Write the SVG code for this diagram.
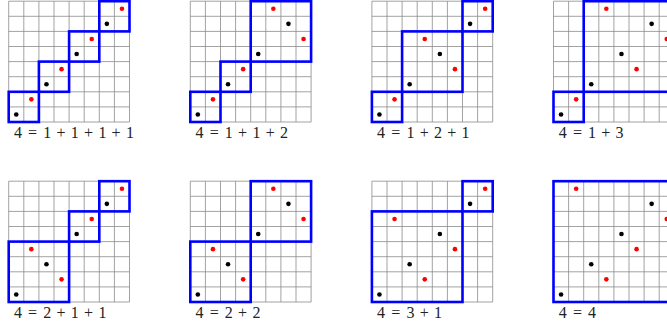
<svg xmlns="http://www.w3.org/2000/svg" xmlns:xlink="http://www.w3.org/1999/xlink" width="667" height="328" viewBox="0 0 667 328">
<style>
.g line{stroke:#8a8a8a;stroke-width:0.8}
.blk{fill:none;stroke:#0000ff;stroke-width:2.6}
.b{fill:#000}
.r{fill:#ff0000}
.lbl{font-family:"Liberation Serif","Times New Roman",serif;font-size:16px;fill:#222;text-anchor:middle}
</style>
<defs>
<g id="grid" class="g">
<line x1="0" y1="0" x2="0" y2="120.8"/><line x1="15.1" y1="0" x2="15.1" y2="120.8"/><line x1="30.2" y1="0" x2="30.2" y2="120.8"/><line x1="45.3" y1="0" x2="45.3" y2="120.8"/><line x1="60.4" y1="0" x2="60.4" y2="120.8"/><line x1="75.5" y1="0" x2="75.5" y2="120.8"/><line x1="90.6" y1="0" x2="90.6" y2="120.8"/><line x1="105.7" y1="0" x2="105.7" y2="120.8"/><line x1="120.8" y1="0" x2="120.8" y2="120.8"/>
<line x1="0" y1="0" x2="120.8" y2="0"/><line x1="0" y1="15.1" x2="120.8" y2="15.1"/><line x1="0" y1="30.2" x2="120.8" y2="30.2"/><line x1="0" y1="45.3" x2="120.8" y2="45.3"/><line x1="0" y1="60.4" x2="120.8" y2="60.4"/><line x1="0" y1="75.5" x2="120.8" y2="75.5"/><line x1="0" y1="90.6" x2="120.8" y2="90.6"/><line x1="0" y1="105.7" x2="120.8" y2="105.7"/><line x1="0" y1="120.8" x2="120.8" y2="120.8"/>
</g>
</defs>

<g id="panel-1111" transform="translate(8.7,1.2)">
<use xlink:href="#grid" href="#grid"/>
<rect class="blk" x="0" y="90.6" width="30.2" height="30.2"/>
<rect class="blk" x="30.2" y="60.4" width="30.2" height="30.2"/>
<rect class="blk" x="60.4" y="30.2" width="30.2" height="30.2"/>
<rect class="blk" x="90.6" y="0" width="30.2" height="30.2"/>
<circle class="b" cx="7.55" cy="113.25" r="2.3"/><circle class="r" cx="22.65" cy="98.15" r="2.3"/>
<circle class="b" cx="37.75" cy="83.05" r="2.3"/><circle class="r" cx="52.85" cy="67.95" r="2.3"/>
<circle class="b" cx="67.95" cy="52.85" r="2.3"/><circle class="r" cx="83.05" cy="37.75" r="2.3"/>
<circle class="b" cx="98.15" cy="22.65" r="2.3"/><circle class="r" cx="113.25" cy="7.55" r="2.3"/>
<text class="lbl" y="136.6" x="9.2 15.4 23.9 32.3 38.5 44.3 52.3 60.3 66.1 71.9 79.9 87.9 93.7 99.4 107.4 115.4 121.2">4 = 1 + 1 + 1 + 1</text>
</g>

<g id="panel-112" transform="translate(190.3,1.2)">
<use xlink:href="#grid" href="#grid"/>
<rect class="blk" x="0" y="90.6" width="30.2" height="30.2"/>
<rect class="blk" x="30.2" y="60.4" width="30.2" height="30.2"/>
<rect class="blk" x="60.4" y="0" width="60.4" height="60.4"/>
<circle class="b" cx="7.55" cy="113.25" r="2.3"/><circle class="r" cx="22.65" cy="98.15" r="2.3"/>
<circle class="b" cx="37.75" cy="83.05" r="2.3"/><circle class="r" cx="52.85" cy="67.95" r="2.3"/>
<circle class="b" cx="67.95" cy="52.85" r="2.3"/><circle class="r" cx="83.05" cy="7.55" r="2.3"/>
<circle class="b" cx="98.15" cy="22.65" r="2.3"/><circle class="r" cx="113.25" cy="37.75" r="2.3"/>
<text class="lbl" y="136.6" x="9.2 15.4 23.9 32.3 38.5 44.3 52.3 60.3 66.1 71.9 79.9 87.9 93.7">4 = 1 + 1 + 2</text>
</g>

<g id="panel-121" transform="translate(371.9,1.2)">
<use xlink:href="#grid" href="#grid"/>
<rect class="blk" x="0" y="90.6" width="30.2" height="30.2"/>
<rect class="blk" x="30.2" y="30.2" width="60.4" height="60.4"/>
<rect class="blk" x="90.6" y="0" width="30.2" height="30.2"/>
<circle class="b" cx="7.55" cy="113.25" r="2.3"/><circle class="r" cx="22.65" cy="98.15" r="2.3"/>
<circle class="b" cx="37.75" cy="83.05" r="2.3"/><circle class="r" cx="52.85" cy="37.75" r="2.3"/>
<circle class="b" cx="67.95" cy="52.85" r="2.3"/><circle class="r" cx="83.05" cy="67.95" r="2.3"/>
<circle class="b" cx="98.15" cy="22.65" r="2.3"/><circle class="r" cx="113.25" cy="7.55" r="2.3"/>
<text class="lbl" y="136.6" x="9.2 15.4 23.9 32.3 38.5 44.3 52.3 60.3 66.1 71.9 79.9 87.9 93.7">4 = 1 + 2 + 1</text>
</g>

<g id="panel-13" transform="translate(553.5,1.2)">
<use xlink:href="#grid" href="#grid"/>
<rect class="blk" x="0" y="90.6" width="30.2" height="30.2"/>
<rect class="blk" x="30.2" y="0" width="90.6" height="90.6"/>
<circle class="b" cx="7.55" cy="113.25" r="2.3"/><circle class="r" cx="22.65" cy="98.15" r="2.3"/>
<circle class="b" cx="37.75" cy="83.05" r="2.3"/><circle class="r" cx="52.85" cy="7.55" r="2.3"/>
<circle class="b" cx="67.95" cy="52.85" r="2.3"/><circle class="r" cx="83.05" cy="67.95" r="2.3"/>
<circle class="b" cx="98.15" cy="22.65" r="2.3"/><circle class="r" cx="113.25" cy="37.75" r="2.3"/>
<text class="lbl" y="136.6" x="9.2 15.4 23.9 32.3 38.5 44.3 52.3 60.3 66.1">4 = 1 + 3</text>
</g>

<g id="panel-211" transform="translate(8.7,181.2)">
<use xlink:href="#grid" href="#grid"/>
<rect class="blk" x="0" y="60.4" width="60.4" height="60.4"/>
<rect class="blk" x="60.4" y="30.2" width="30.2" height="30.2"/>
<rect class="blk" x="90.6" y="0" width="30.2" height="30.2"/>
<circle class="b" cx="7.55" cy="113.25" r="2.3"/><circle class="r" cx="22.65" cy="67.95" r="2.3"/>
<circle class="b" cx="37.75" cy="83.05" r="2.3"/><circle class="r" cx="52.85" cy="98.15" r="2.3"/>
<circle class="b" cx="67.95" cy="52.85" r="2.3"/><circle class="r" cx="83.05" cy="37.75" r="2.3"/>
<circle class="b" cx="98.15" cy="22.65" r="2.3"/><circle class="r" cx="113.25" cy="7.55" r="2.3"/>
<text class="lbl" y="136.8" x="9.2 15.4 23.9 32.3 38.5 44.3 52.3 60.3 66.1 71.9 79.9 87.9 93.7">4 = 2 + 1 + 1</text>
</g>

<g id="panel-22" transform="translate(190.3,181.2)">
<use xlink:href="#grid" href="#grid"/>
<rect class="blk" x="0" y="60.4" width="60.4" height="60.4"/>
<rect class="blk" x="60.4" y="0" width="60.4" height="60.4"/>
<circle class="b" cx="7.55" cy="113.25" r="2.3"/><circle class="r" cx="22.65" cy="67.95" r="2.3"/>
<circle class="b" cx="37.75" cy="83.05" r="2.3"/><circle class="r" cx="52.85" cy="98.15" r="2.3"/>
<circle class="b" cx="67.95" cy="52.85" r="2.3"/><circle class="r" cx="83.05" cy="7.55" r="2.3"/>
<circle class="b" cx="98.15" cy="22.65" r="2.3"/><circle class="r" cx="113.25" cy="37.75" r="2.3"/>
<text class="lbl" y="136.8" x="9.2 15.4 23.9 32.3 38.5 44.3 52.3 60.3 66.1">4 = 2 + 2</text>
</g>

<g id="panel-31" transform="translate(371.9,181.2)">
<use xlink:href="#grid" href="#grid"/>
<rect class="blk" x="0" y="30.2" width="90.6" height="90.6"/>
<rect class="blk" x="90.6" y="0" width="30.2" height="30.2"/>
<circle class="b" cx="7.55" cy="113.25" r="2.3"/><circle class="r" cx="22.65" cy="37.75" r="2.3"/>
<circle class="b" cx="37.75" cy="83.05" r="2.3"/><circle class="r" cx="52.85" cy="98.15" r="2.3"/>
<circle class="b" cx="67.95" cy="52.85" r="2.3"/><circle class="r" cx="83.05" cy="67.95" r="2.3"/>
<circle class="b" cx="98.15" cy="22.65" r="2.3"/><circle class="r" cx="113.25" cy="7.55" r="2.3"/>
<text class="lbl" y="136.8" x="9.2 15.4 23.9 32.3 38.5 44.3 52.3 60.3 66.1">4 = 3 + 1</text>
</g>

<g id="panel-4" transform="translate(553.5,181.2)">
<use xlink:href="#grid" href="#grid"/>
<rect class="blk" x="0" y="0" width="120.8" height="120.8"/>
<circle class="b" cx="7.55" cy="113.25" r="2.3"/><circle class="r" cx="22.65" cy="7.55" r="2.3"/>
<circle class="b" cx="37.75" cy="83.05" r="2.3"/><circle class="r" cx="52.85" cy="98.15" r="2.3"/>
<circle class="b" cx="67.95" cy="52.85" r="2.3"/><circle class="r" cx="83.05" cy="67.95" r="2.3"/>
<circle class="b" cx="98.15" cy="22.65" r="2.3"/><circle class="r" cx="113.25" cy="37.75" r="2.3"/>
<text class="lbl" y="136.8" x="9.2 15.4 23.9 32.3 38.5">4 = 4</text>
</g>
</svg>
